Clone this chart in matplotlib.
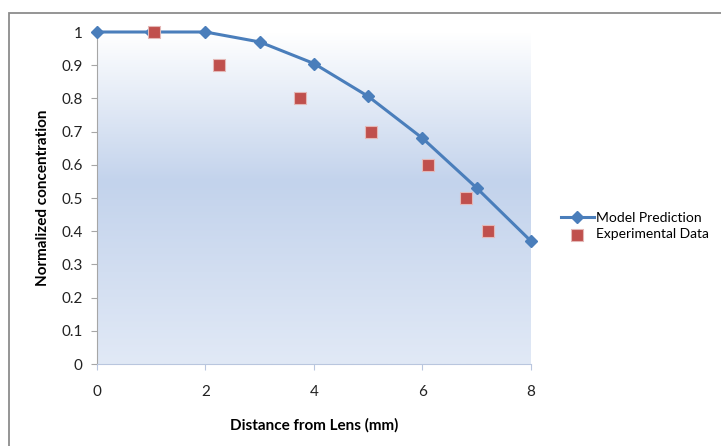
import numpy as np
import matplotlib.pyplot as plt
from matplotlib.colors import LinearSegmentedColormap
from matplotlib.patches import Rectangle

# data
model_x = [0, 1, 2, 3, 4, 5, 6, 7, 8]
model_y = [1.0, 1.0, 1.0, 0.97, 0.905, 0.806, 0.68, 0.53, 0.37]
exp_x = [1.05, 2.25, 3.75, 5.05, 6.1, 6.8, 7.2]
exp_y = [1.0, 0.9, 0.8, 0.7, 0.6, 0.5, 0.4]

plt.rcParams['font.family'] = ['Lato', 'DejaVu Sans']

fig = plt.figure(figsize=(7.21, 4.46), dpi=100)
ax = fig.add_axes([97/721, 1-364/446, 434/721, 332/446])

# outer chart border (top and left visible)
fig.patches.append(Rectangle((9/721, -0.1), 1.2, 1.1-13/446, transform=fig.transFigure,
                             fill=False, edgecolor='#8c8c8c', linewidth=1.3))

# gradient plot-area fill
cmap = LinearSegmentedColormap.from_list('bg', [(0, '#e1e9f6'), (0.55, '#c3d3ec'), (1, '#ffffff')])
grad = np.linspace(0, 1, 256).reshape(-1, 1)
ax.imshow(grad, cmap=cmap, aspect='auto', extent=[0, 8, 0, 1], origin='lower', zorder=0)

ax.plot(model_x, model_y, color='#4a7ebb', linewidth=2.2, marker='D', markersize=6,
        clip_on=False, zorder=3, label='Model Prediction')
ax.scatter(exp_x, exp_y, marker='s', s=85, color='#c0504d', edgecolors='#e4b8b7',
           linewidths=0.8, clip_on=False, zorder=4, label='Experimental Data')

ax.set_xlim(0, 8)
ax.set_ylim(0, 1)
ax.set_xticks([0, 2, 4, 6, 8])
ax.set_yticks(np.arange(0, 1.01, 0.1))
ax.set_yticklabels(['0', '0.1', '0.2', '0.3', '0.4', '0.5', '0.6', '0.7', '0.8', '0.9', '1'])

for s in ['top', 'right']:
    ax.spines[s].set_visible(False)
ax.spines['left'].set_color('#a6a6a6')
ax.spines['bottom'].set_color('#b9c6de')
ax.tick_params(axis='y', length=4.5, pad=6, colors='#a6a6a6', labelcolor='#222222', labelsize=11)
ax.tick_params(axis='x', length=4, pad=11, colors='#b9c6de', labelcolor='#222222', labelsize=11)

ax.set_xlabel('Distance from Lens (mm)', fontsize=11, fontweight='bold', labelpad=14)
ax.set_ylabel('Normalized concentration', fontsize=11, fontweight='bold', labelpad=8)

fig.legend(loc='center left', bbox_to_anchor=(548/721, 1-226/446), frameon=False,
           fontsize=10, handlelength=2.4, handletextpad=0.15, labelspacing=0.35)

plt.savefig('out.png', dpi=100)
